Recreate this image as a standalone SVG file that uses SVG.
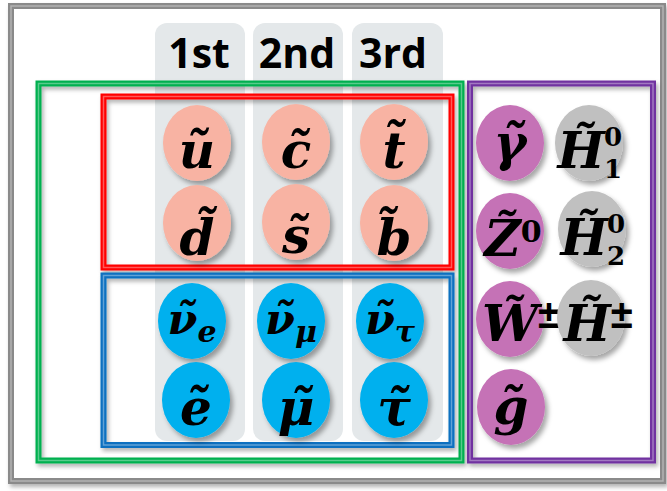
<svg xmlns="http://www.w3.org/2000/svg" width="667" height="491" viewBox="0 0 667 491">
<defs>
<filter id="sh" x="-30%" y="-30%" width="160%" height="160%">
<feDropShadow dx="3" dy="4" stdDeviation="2.5" flood-color="#000" flood-opacity="0.35"/>
</filter>
<filter id="fs" x="-5%" y="-5%" width="110%" height="110%">
<feDropShadow dx="2" dy="3" stdDeviation="2" flood-color="#000" flood-opacity="0.3"/>
</filter>
<style>
.col{fill:#e4e8ea}
.hd{font-family:"Open Sans","Liberation Sans",sans-serif;font-weight:bold;font-size:41px;text-anchor:middle;fill:#000}
.m{font-family:"DejaVu Serif","Liberation Serif",serif;font-weight:bold;font-style:italic;font-size:50px;text-anchor:middle;fill:#000}
.nu{font-size:43px}
.sub{font-size:30px}
.up{font-family:"DejaVu Serif","Liberation Serif",serif;font-weight:bold;font-style:normal}
.sp{font-family:"Liberation Sans","DejaVu Sans",sans-serif;font-weight:bold;font-style:normal;font-size:40px}
.ix{font-family:"DejaVu Serif","Liberation Serif",serif;font-weight:bold;font-size:26px;text-anchor:middle;fill:#000}
.sq{fill:#f8b3a3}
.lp{fill:#00b0ee}
.gb{fill:#c572b6}
.hg{fill:#c0c0c0}
.fr{fill:none;stroke-width:6}
.hl{fill:none;stroke:#fff;stroke-opacity:0.35;stroke-width:1.5}
</style>
</defs>
<rect width="667" height="491" fill="#fff"/>
<g id="frame">
<rect x="11" y="6" width="652" height="475" fill="#fff" stroke="#8a8a8a" stroke-width="6" filter="url(#fs)"/>
<rect x="11" y="6" width="652" height="475" class="hl"/>
</g>
<g id="columns">
<rect x="155" y="23" width="90" height="418" rx="12" class="col"/>
<rect x="253" y="23" width="90" height="418" rx="12" class="col"/>
<rect x="352" y="23" width="91" height="418" rx="12" class="col"/>
<text x="199" y="68" class="hd">1st</text>
<text x="297" y="68" class="hd">2nd</text>
<text x="393" y="68" class="hd">3rd</text>
</g>
<g id="boxes">
<rect x="38.5" y="83.5" width="423" height="377" class="fr" stroke="#00b050" filter="url(#fs)"/>
<rect x="38.5" y="83.5" width="423" height="377" class="hl"/>
<rect x="103.5" y="96.5" width="348" height="171" class="fr" stroke="#ff0000" filter="url(#fs)"/>
<rect x="103.5" y="96.5" width="348" height="171" class="hl"/>
<rect x="103.5" y="275.5" width="348" height="169.5" class="fr" stroke="#0a70c0" filter="url(#fs)"/>
<rect x="103.5" y="275.5" width="348" height="169.5" class="hl"/>
<rect x="470" y="83.5" width="183" height="377" class="fr" stroke="#7030a0" filter="url(#fs)"/>
<rect x="470" y="83.5" width="183" height="377" class="hl"/>
</g>
<g id="squarks">
<g id="su"><ellipse cx="197" cy="143" rx="34" ry="38" class="sq" filter="url(#sh)"/><text x="197" y="168" class="m">ũ</text></g>
<g id="sc"><ellipse cx="296" cy="142" rx="34" ry="38" class="sq" filter="url(#sh)"/><text x="296" y="168" class="m">c̃</text></g>
<g id="st"><ellipse cx="394" cy="142" rx="34" ry="38" class="sq" filter="url(#sh)"/><text x="394" y="168" class="m">t̃</text></g>
<g id="sd"><ellipse cx="197" cy="223" rx="34" ry="38" class="sq" filter="url(#sh)"/><text x="197" y="255" class="m">d̃</text></g>
<g id="ss"><ellipse cx="296" cy="222" rx="34" ry="38" class="sq" filter="url(#sh)"/><text x="296" y="253" class="m">s̃</text></g>
<g id="sb"><ellipse cx="394" cy="223" rx="34" ry="38" class="sq" filter="url(#sh)"/><text x="394" y="255" class="m">b̃</text></g>
</g>
<g id="sleptons">
<g id="sne"><ellipse cx="192" cy="321" rx="34" ry="38" class="lp" filter="url(#sh)"/><text x="192" y="334" class="m nu">ν̃<tspan class="sub" dy="8">e</tspan></text></g>
<g id="snm"><ellipse cx="291" cy="321" rx="34" ry="38" class="lp" filter="url(#sh)"/><text x="291" y="334" class="m nu">ν̃<tspan class="sub" dy="8">μ</tspan></text></g>
<g id="snt"><ellipse cx="390" cy="321" rx="34" ry="38" class="lp" filter="url(#sh)"/><text x="390" y="334" class="m nu">ν̃<tspan class="sub" dy="8">τ</tspan></text></g>
<g id="se"><ellipse cx="196" cy="400" rx="34" ry="38" class="lp" filter="url(#sh)"/><text x="196" y="425" class="m">ẽ</text></g>
<g id="smu"><ellipse cx="296" cy="400" rx="34" ry="38" class="lp" filter="url(#sh)"/><text x="296" y="425" class="m">μ̃</text></g>
<g id="stau"><ellipse cx="394" cy="400" rx="34" ry="38" class="lp" filter="url(#sh)"/><text x="394" y="425" class="m">τ̃</text></g>
</g>
<g id="gauginos">
<g id="gam"><ellipse cx="510" cy="143" rx="34" ry="38" class="gb" filter="url(#sh)"/><text x="510" y="160" class="m">γ̃</text></g>
<g id="z0"><ellipse cx="510" cy="231" rx="34" ry="38" class="gb" filter="url(#sh)"/><text x="513" y="256" class="m">Z̃<tspan class="up" font-size="30" dy="-14">0</tspan></text></g>
<g id="wpm"><ellipse cx="510" cy="319" rx="34" ry="38" class="gb" filter="url(#sh)"/><text x="521" y="341" class="m">W̃<tspan class="sp" dy="-13">±</tspan></text></g>
<g id="glu"><ellipse cx="511" cy="407" rx="34" ry="38" class="gb" filter="url(#sh)"/><text x="511" y="424" class="m">g̃</text></g>
</g>
<g id="higgsinos">
<g id="h10"><ellipse cx="589" cy="143" rx="34" ry="38" class="hg" filter="url(#sh)"/><text x="581" y="168" class="m">H̃</text><text x="613" y="146" class="ix">0</text><text x="613" y="178" class="ix">1</text></g>
<g id="h20"><ellipse cx="592" cy="229" rx="34" ry="38" class="hg" filter="url(#sh)"/><text x="584" y="255" class="m">H̃</text><text x="616" y="233" class="ix">0</text><text x="616" y="265" class="ix">2</text></g>
<g id="hpm"><ellipse cx="591" cy="318" rx="34" ry="38" class="hg" filter="url(#sh)"/><text x="598" y="341" class="m">H̃<tspan class="sp" dy="-13">±</tspan></text></g>
</g>
</svg>
